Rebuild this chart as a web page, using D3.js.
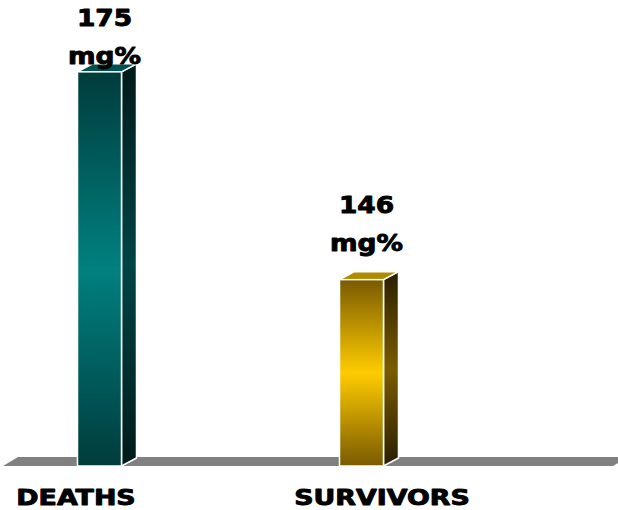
<!DOCTYPE html>
<html>
<head>
<meta charset="utf-8">
<script src="https://cdn.jsdelivr.net/npm/d3@7/dist/d3.min.js"></script>
<style>
  html, body { margin: 0; padding: 0; background: #ffffff; }
  svg { display: block; }
  text { font-family: "DejaVu Sans", sans-serif; font-weight: bold; fill: #000;
         stroke: #000; stroke-width: 0.9px; stroke-linejoin: round; }
</style>
</head>
<body>
<svg id="chart" width="618" height="510"></svg>
<script>
// Mean blood glucose on admission, by outcome
const categories = ["DEATHS", "SURVIVORS"];
const values = [175, 146];
const unitLabel = "mg%";

// Per-bar palette: front face (edge, middle), side face (edge, middle), top face
const frontEdge = ["#003c3c", "#7a5a00"];
const frontMid  = ["#008080", "#ffcc00"];
const sideEdge  = ["#001a1a", "#2a1e00"];
const sideMid   = ["#004444", "#7a5c00"];
const topFace   = ["#005252", "#b08a00"];

const W = 618, H = 510;
const svg = d3.select("#chart");

// Oblique depth of the 3D look
const depthX = 15, depthY = 8;
const barW = 44;

const x = d3.scalePoint().domain(categories).range([99.5, 361.5]);
const xLabel = d3.scalePoint().domain(categories).range([76, 382]);
const y = d3.scaleLinear().domain([120, 180]).range([466, 36]);
const base = y.domain()[0];

const defs = svg.append("defs");
function vGrad(id, edge, mid) {
  const g = defs.append("linearGradient").attr("id", id)
    .attr("x1", 0).attr("y1", 0).attr("x2", 0).attr("y2", 1);
  g.append("stop").attr("offset", "0%").attr("stop-color", edge);
  g.append("stop").attr("offset", "50%").attr("stop-color", mid);
  g.append("stop").attr("offset", "100%").attr("stop-color", edge);
}
categories.forEach((c, i) => {
  vGrad("front" + i, frontEdge[i], frontMid[i]);
  vGrad("side" + i, sideEdge[i], sideMid[i]);
});

// Floor plane
const floorL = 3, floorR = 613, y0 = y(base);
svg.append("polygon")
  .attr("points", [
    [floorL, y0], [floorR, y0],
    [floorR + depthX, y0 - depthY - 1], [floorL + depthX, y0 - depthY - 1]
  ].map(p => p.join(",")).join(" "))
  .attr("fill", "#808080");

// Bars
const bars = svg.selectAll("g.bar")
  .data(categories.map((c, i) => ({ c, v: values[i], i })))
  .join("g").attr("class", "bar");

bars.each(function(d) {
  const g = d3.select(this);
  const xl = x(d.c) - barW / 2, xr = x(d.c) + barW / 2;
  const yt = y(d.v), yb = y(base);
  const pts = a => a.map(p => p.join(",")).join(" ");
  // side face
  g.append("polygon")
    .attr("points", pts([[xr, yb], [xr + depthX, yb - depthY], [xr + depthX, yt - depthY], [xr, yt]]))
    .attr("fill", `url(#side${d.i})`)
    .attr("stroke", "#fff").attr("stroke-width", 1.5).attr("stroke-linejoin", "round");
  // top face
  g.append("polygon")
    .attr("points", pts([[xl, yt], [xr, yt], [xr + depthX, yt - depthY], [xl + depthX, yt - depthY]]))
    .attr("fill", topFace[d.i])
    .attr("stroke", "#fff").attr("stroke-width", 1.5).attr("stroke-linejoin", "round");
  // front face
  g.append("rect")
    .attr("x", xl).attr("y", yt)
    .attr("width", barW).attr("height", yb - yt)
    .attr("fill", `url(#front${d.i})`)
    .attr("stroke", "#fff").attr("stroke-width", 1.5);

  // value label, two lines, kept inside the top of the chart
  const cx = x(d.c) + 5;
  const line2 = Math.max(yt - depthY - 21, 64);
  const line1 = line2 - 38;
  [[String(d.v), line1], [unitLabel, line2]].forEach(([t, ly]) => {
    g.append("text")
      .attr("transform", `translate(${cx},${ly}) scale(1.15,1)`)
      .attr("text-anchor", "middle")
      .attr("font-size", 23)
      .text(t);
  });
});

// Category labels
svg.selectAll("text.cat")
  .data(categories)
  .join("text").attr("class", "cat")
  .attr("transform", d => `translate(${xLabel(d)},505) scale(1.31,1)`)
  .attr("text-anchor", "middle")
  .attr("font-size", 20.5)
  .text(d => d);
</script>
</body>
</html>
